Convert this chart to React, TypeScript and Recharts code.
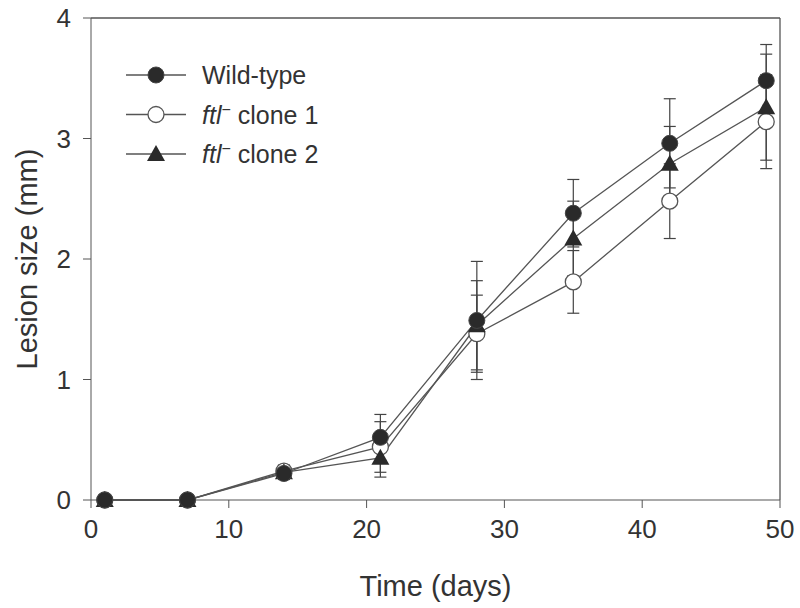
import React from "react";
import {
  LineChart, Line, XAxis, YAxis, ErrorBar, ReferenceLine,
} from "recharts";

const FONT = "'Liberation Sans', Arial, sans-serif";
const INK = "#333";
const LINE = "#555";
const FILL = "#2a2a2a";

const days = [1, 7, 14, 21, 28, 35, 42, 49];
const wildType = [0, 0, 0.22, 0.52, 1.49, 2.38, 2.96, 3.48];
const wildTypeErr = [0, 0, 0.05, 0.19, 0.49, 0.28, 0.37, 0.3];
const clone1 = [0, 0, 0.24, 0.44, 1.38, 1.81, 2.48, 3.14];
const clone1Err = [0, 0, 0.05, 0.21, 0.32, 0.26, 0.31, 0.39];
const clone2 = [0, 0, 0.23, 0.35, 1.45, 2.17, 2.79, 3.26];
const clone2Err = [0, 0, 0.05, 0.16, 0.37, 0.31, 0.31, 0.44];

const xTicks = [0, 10, 20, 30, 40, 50];
const yTicks = [0, 1, 2, 3, 4];

const data = days.map((day, i) => ({
  day,
  wt: wildType[i], wtErr: wildTypeErr[i],
  c1: clone1[i], c1Err: clone1Err[i],
  c2: clone2[i], c2Err: clone2Err[i],
}));

const FilledCircle = ({ cx, cy }: any) => (
  <circle cx={cx} cy={cy} r={8} fill={FILL} stroke="#444" strokeWidth={1} />
);
const OpenCircle = ({ cx, cy }: any) => (
  <circle cx={cx} cy={cy} r={8} fill="#fff" stroke={LINE} strokeWidth={1.3} />
);
const Triangle = ({ cx, cy }: any) => (
  <polygon points={`${cx},${cy - 9} ${cx - 9},${cy + 7} ${cx + 9},${cy + 7}`} fill={FILL} />
);

const dotOf = (Shape: any) => (props: any) =>
  props.cx == null ? null : <Shape key={`d-${props.index}`} cx={props.cx} cy={props.cy} />;

const legendRows = [
  { label: "Wild-type", Shape: FilledCircle, mutant: false },
  { label: " clone 1", Shape: OpenCircle, mutant: true },
  { label: " clone 2", Shape: Triangle, mutant: true },
];

function Legend() {
  return (
    <svg width={260} height={120} style={{ position: "absolute", left: 120, top: 55 }}>
      {legendRows.map((r, i) => {
        const y = 20 + i * 39.5;
        return (
          <g key={i}>
            <line x1={6} x2={66} y1={y} y2={y} stroke={LINE} strokeWidth={1.3} />
            <r.Shape cx={36} cy={y} />
            <text x={82} y={y + 9} fontFamily={FONT} fontSize={25} fill={INK}>
              {r.mutant ? (
                <>
                  <tspan fontStyle="italic">ftl</tspan>
                  <tspan dy={-9} fontSize={16}>−</tspan>
                  <tspan dy={9}>{r.label}</tspan>
                </>
              ) : r.label}
            </text>
          </g>
        );
      })}
    </svg>
  );
}

export default function App() {
  const tickStyle = { fontFamily: FONT, fontSize: 26, fill: INK };
  return (
    <div style={{ position: "absolute", left: 0, top: 0, width: 800, height: 608, background: "#fff" }}>
      <LineChart width={800} height={608} data={data} margin={{ top: 18, right: 20, bottom: 0, left: 0 }}>
        <XAxis
          dataKey="day" type="number" domain={[0, 50]} ticks={xTicks}
          height={108} tickSize={8} tickMargin={12}
          stroke={LINE} tick={tickStyle}
          label={{ value: "Time (days)", position: "insideBottom", offset: 12,
            style: { fontFamily: FONT, fontSize: 29, fill: INK } }}
        />
        <YAxis
          type="number" domain={[0, 4]} ticks={yTicks} width={91}
          tickSize={8} tickMargin={12} stroke={LINE} tick={tickStyle}
          label={{ value: "Lesion size (mm)", angle: -90, position: "insideLeft", offset: 27,
            style: { fontFamily: FONT, fontSize: 29, fill: INK, textAnchor: "middle" } }}
        />
        <ReferenceLine y={4} stroke={LINE} strokeWidth={1.3} />
        <ReferenceLine x={50} stroke={LINE} strokeWidth={1.3} />
        <Line dataKey="c1" stroke={LINE} strokeWidth={1.3} dot={dotOf(OpenCircle)} isAnimationActive={false}>
          <ErrorBar dataKey="c1Err" width={6} stroke="#444" strokeWidth={1.2} direction="y" />
        </Line>
        <Line dataKey="c2" stroke={LINE} strokeWidth={1.3} dot={dotOf(Triangle)} isAnimationActive={false}>
          <ErrorBar dataKey="c2Err" width={6} stroke="#444" strokeWidth={1.2} direction="y" />
        </Line>
        <Line dataKey="wt" stroke={LINE} strokeWidth={1.3} dot={dotOf(FilledCircle)} isAnimationActive={false}>
          <ErrorBar dataKey="wtErr" width={6} stroke="#444" strokeWidth={1.2} direction="y" />
        </Line>
      </LineChart>
      <Legend />
    </div>
  );
}
